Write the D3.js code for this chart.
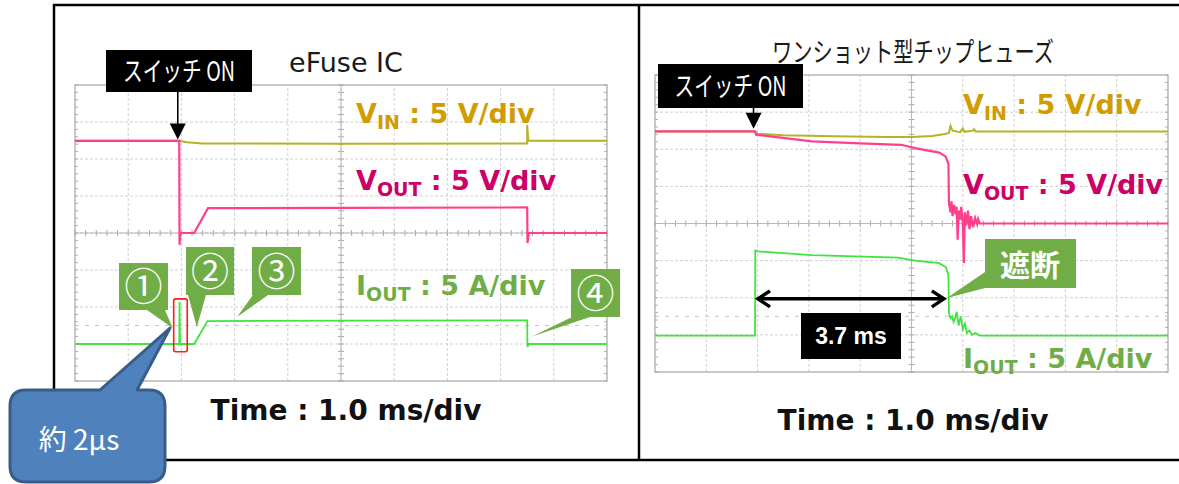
<!DOCTYPE html>
<html>
<head>
<meta charset="utf-8">
<script src="https://cdn.jsdelivr.net/npm/d3@7"></script>
<style>
  html, body { margin: 0; padding: 0; background: #fff; }
  svg { display: block; }
</style>
</head>
<body>
<svg id="chart" width="1179" height="484"></svg>
<script>
// Screen divisions of both scope captures: 10 time divisions (1 ms each), 8 vertical divisions
const timeDivs = d3.range(0, 11);
const levelDivs = d3.range(0, 9);

// Trace samples as [time in ms, level in divisions above the bottom of the screen]
// eFuse IC capture
const efuseVin = [[0, 6.49], [1.96, 6.49], [2.1, 6.45], [2.4, 6.42], [5.0, 6.41], [8.5, 6.42], [8.5, 6.92], [8.52, 6.49], [10, 6.49]];
const efuseVout = [[0, 6.49], [1.96, 6.49], [1.965, 3.68], [1.98, 4.0], [2.24, 4.0], [2.5, 4.67], [5.0, 4.68], [8.5, 4.69], [8.505, 3.73], [8.53, 4.0], [10, 4.0]];
const efuseIout = [[0, 1.0], [1.96, 1.0], [1.965, 2.14], [1.975, 1.0], [2.24, 1.0], [2.49, 1.62], [5.0, 1.63], [8.5, 1.64], [8.505, 0.92], [8.53, 1.0], [10, 1.0]];

// One-shot chip fuse capture
const fuseVin = [[0, 6.48], [1.95, 6.48], [2.0, 6.42], [2.5, 6.38], [3.5, 6.35], [4.5, 6.33], [5.0, 6.33], [5.4, 6.36], [5.65, 6.41], [5.73, 6.44], [5.76, 6.63], [5.8, 6.5], [5.95, 6.46], [6.0, 6.56], [6.03, 6.47], [6.2, 6.5], [6.22, 6.54], [6.25, 6.48], [10, 6.48]];
const fuseVout = [[0, 6.48], [1.95, 6.48], [1.97, 6.39], [3.06, 6.21], [4.0, 6.16], [4.8, 6.12], [5.07, 6.03], [5.54, 5.91], [5.67, 5.8], [5.72, 5.6], [5.73, 4.55],
  [5.76, 4.3], [5.78, 4.6], [5.8, 4.2], [5.83, 4.5], [5.86, 4.25], [5.88, 4.45], [5.9, 3.56], [5.92, 4.35], [5.95, 4.1], [5.97, 4.45], [6.0, 4.0], [6.02, 2.94],
  [6.04, 4.3], [6.07, 3.95], [6.1, 4.35], [6.13, 3.85], [6.16, 4.2], [6.2, 3.9], [6.24, 4.15], [6.28, 3.98], [6.3, 4.12], [6.33, 4.0], [10, 4.0]];
const fuseIout = [[0, 0.98], [1.95, 0.98], [1.955, 3.27], [2.0, 3.25], [3.06, 3.15], [4.74, 3.08], [5.07, 3.0], [5.54, 2.93], [5.67, 2.82], [5.72, 2.61], [5.73, 1.59],
  [5.76, 1.45], [5.79, 1.5], [5.82, 1.35], [5.85, 1.45], [5.88, 1.62], [5.92, 1.25], [5.96, 1.5], [6.0, 1.15], [6.04, 1.3], [6.08, 1.05], [6.13, 1.12],
  [6.18, 1.0], [6.25, 1.05], [6.33, 0.98], [10, 0.98]];

const switchOnMs = [1.96, 1.95];
const fuseBlowMs = 3.7;
const triggerLevel = 1.5;

// Texts
const panelTitles = ["eFuse IC", "ワンショット型チップヒューズ"];
const channelMain = ["V", "V", "I"];
const channelSub = ["IN", "OUT", "OUT"];
const channelScale = [" : 5 V/div", " : 5 V/div", " : 5 A/div"];
const timeLabel = "Time : 1.0 ms/div";
const switchLabel = "スイッチ ON";
const stepMarks = ["①", "②", "③", "④"];
const blowLabel = "遮断";
const blowTimeLabel = "3.7 ms";
const riseNote = "約 2µs";

const traceColors = { vin: "#b5b325", vout: "#ff3f8e", iout: "#3fe43f" };
const labelColors = ["#d09c00", "#cc0066", "#70ad47"];
const latin = "'DejaVu Sans', Verdana, sans-serif";
const cjk = "'Noto Sans CJK JP', 'Noto Sans', sans-serif";

const svg = d3.select("#chart");

// Outer frame and divider
svg.append("rect").attr("x", 54).attr("y", 5).attr("width", 1140).attr("height", 455)
  .attr("fill", "none").attr("stroke", "#000").attr("stroke-width", 2.5);
svg.append("line").attr("x1", 639).attr("x2", 639).attr("y1", 5).attr("y2", 460)
  .attr("stroke", "#000").attr("stroke-width", 2.5);

function drawScope(x0, x1, yTop, yBottom) {
  const x = d3.scaleLinear().domain([0, 10]).range([x0, x1]);
  const y = d3.scaleLinear().domain([0, 8]).range([yBottom, yTop]);
  const g = svg.append("g");

  // graticule
  g.selectAll(".vgrid").data(timeDivs.slice(1, -1)).join("line")
    .attr("x1", d => x(d)).attr("x2", d => x(d)).attr("y1", y(0)).attr("y2", y(8))
    .attr("stroke", "#d0d0d0").attr("stroke-dasharray", "3,2");
  g.selectAll(".hgrid").data(levelDivs.slice(1, -1)).join("line")
    .attr("x1", x(0)).attr("x2", x(10)).attr("y1", d => y(d)).attr("y2", d => y(d))
    .attr("stroke", "#d0d0d0").attr("stroke-dasharray", "3,2");

  // trigger level marker
  g.append("line").attr("x1", x(0)).attr("x2", x(10)).attr("y1", y(triggerLevel)).attr("y2", y(triggerLevel))
    .attr("stroke", "#c4c4c4").attr("stroke-dasharray", "4,6");

  // minor ticks on the centre axes
  const tMinor = d3.range(0, 10.001, 0.2);
  const vMinor = d3.range(0, 8.001, 0.2);
  g.selectAll(".tx").data(tMinor).join("line")
    .attr("x1", d => x(d)).attr("x2", d => x(d)).attr("y1", y(4) - 3).attr("y2", y(4) + 3)
    .attr("stroke", "#a8a8a8");
  g.selectAll(".ty").data(vMinor).join("line")
    .attr("x1", x(5) - 3).attr("x2", x(5) + 3).attr("y1", d => y(d)).attr("y2", d => y(d))
    .attr("stroke", "#a8a8a8");
  g.append("line").attr("x1", x(0)).attr("x2", x(10)).attr("y1", y(4)).attr("y2", y(4)).attr("stroke", "#b8b8b8");
  g.append("line").attr("x1", x(5)).attr("x2", x(5)).attr("y1", y(0)).attr("y2", y(8)).attr("stroke", "#b8b8b8");

  // border ticks
  g.selectAll(".bl").data(vMinor).join("line")
    .attr("x1", x(0)).attr("x2", x(0) + 3).attr("y1", d => y(d)).attr("y2", d => y(d)).attr("stroke", "#b0b0b0");
  g.selectAll(".br").data(vMinor).join("line")
    .attr("x1", x(10) - 3).attr("x2", x(10)).attr("y1", d => y(d)).attr("y2", d => y(d)).attr("stroke", "#b0b0b0");
  g.append("rect").attr("x", x(0)).attr("y", y(8)).attr("width", x(10) - x(0)).attr("height", y(0) - y(8))
    .attr("fill", "none").attr("stroke", "#a6a6a6").attr("stroke-width", 1.2);

  return { x, y, g };
}

function drawTraces(sc, vin, vout, iout) {
  const line = d3.line().x(d => sc.x(d[0])).y(d => sc.y(d[1]));
  sc.g.append("path").datum(vin).attr("d", line).attr("fill", "none")
    .attr("stroke", traceColors.vin).attr("stroke-width", 2);
  sc.g.append("path").datum(iout).attr("d", line).attr("fill", "none")
    .attr("stroke", traceColors.iout).attr("stroke-width", 1.8);
  sc.g.append("path").datum(vout).attr("d", line).attr("fill", "none")
    .attr("stroke", traceColors.vout).attr("stroke-width", 2.2);
}

function channelLabels(xPos, baselines) {
  baselines.forEach((b, i) => {
    const t = svg.append("text").attr("x", xPos).attr("y", b)
      .attr("font-family", latin).attr("font-weight", "bold").attr("font-size", 27)
      .attr("fill", labelColors[i]);
    t.append("tspan").text(channelMain[i]);
    t.append("tspan").attr("font-size", 19).attr("dy", 6).text(channelSub[i]);
    t.append("tspan").attr("dy", -6).text(channelScale[i]);
  });
}

function switchMarker(sc, tMs, box, tipLevel) {
  svg.append("rect").attr("x", box[0]).attr("y", box[1]).attr("width", box[2]).attr("height", box[3]).attr("fill", "#000");
  svg.append("text").attr("x", box[0] + box[2] / 2).attr("y", box[1] + box[3] / 2 + 10)
    .attr("text-anchor", "middle").attr("font-family", cjk).attr("font-size", 27)
    .attr("textLength", 112).attr("lengthAdjust", "spacingAndGlyphs")
    .attr("fill", "#fff").text(switchLabel);
  const ax = sc.x(tMs) - 1.5, tip = sc.y(tipLevel);
  svg.append("line").attr("x1", ax).attr("x2", ax).attr("y1", box[1] + box[3]).attr("y2", tip - 14)
    .attr("stroke", "#000").attr("stroke-width", 1.6);
  svg.append("path").attr("d", `M${ax - 8},${tip - 16}L${ax + 8},${tip - 16}L${ax},${tip}Z`).attr("fill", "#000");
}

function callout(box, base, tip, label, size) {
  const [bx, by, bw, bh] = box;
  svg.append("path")
    .attr("d", `M${bx},${by}H${bx + bw}V${by + bh}H${base[1]}L${tip[0]},${tip[1]}L${base[0]},${by + bh}H${bx}Z`)
    .attr("fill", "#70ad47");
  svg.append("text").attr("x", bx + bw / 2).attr("y", by + bh / 2 + size * 0.36)
    .attr("text-anchor", "middle").attr("font-family", cjk).attr("font-size", size)
    .attr("fill", "#fff").text(label);
}

// ---- eFuse IC panel ----
const left = drawScope(75, 607, 85, 381);
drawTraces(left, efuseVin, efuseVout, efuseIout);
channelLabels(356, [123, 190, 295]);

svg.append("text").attr("x", 346).attr("y", 72).attr("text-anchor", "middle")
  .attr("font-family", latin).attr("font-size", 27).attr("fill", "#1a1a1a").text(panelTitles[0]);
svg.append("text").attr("x", 346).attr("y", 420).attr("text-anchor", "middle")
  .attr("font-family", latin).attr("font-weight", "bold").attr("font-size", 28).attr("fill", "#111").text(timeLabel);

switchMarker(left, switchOnMs[0], [106, 50, 146, 42], 6.53);

// highlight round the short inrush spike
svg.append("rect").attr("x", left.x(1.855)).attr("y", left.y(2.22))
  .attr("width", left.x(2.11) - left.x(1.855)).attr("height", left.y(0.79) - left.y(2.22))
  .attr("rx", 2).attr("fill", "none").attr("stroke", "#ff1a1a").attr("stroke-width", 1.6);

// numbered steps
const lx = left.x, ly = left.y;
callout([119, 263, 49, 47], [147, 165], [lx(1.836), ly(1.43)], stepMarks[0], 38);
callout([186, 247, 48, 48], [188, 206], [lx(2.29), ly(1.46)], stepMarks[1], 38);
callout([252, 247, 49, 48], [253, 268], [lx(3.045), ly(1.73)], stepMarks[2], 38);
callout([571, 269, 49, 48], [572, 590], [lx(8.59), ly(1.2)], stepMarks[3], 38);

// ---- one-shot chip fuse panel ----
const right = drawScope(655, 1168, 75, 372);
drawTraces(right, fuseVin, fuseVout, fuseIout);
channelLabels(963, [114, 194, 368]);

svg.append("text").attr("x", 913).attr("y", 62).attr("text-anchor", "middle")
  .attr("font-family", cjk).attr("font-size", 27).attr("textLength", 282).attr("lengthAdjust", "spacingAndGlyphs")
  .attr("fill", "#1a1a1a").text(panelTitles[1]);
svg.append("text").attr("x", 913).attr("y", 430).attr("text-anchor", "middle")
  .attr("font-family", latin).attr("font-weight", "bold").attr("font-size", 28).attr("fill", "#111").text(timeLabel);

switchMarker(right, switchOnMs[1], [658, 64, 145, 44], 6.55);

// blow time span
const rx = right.x, ry = right.y;
const ax0 = rx(switchOnMs[1]) + 2, ax1 = rx(switchOnMs[1] + fuseBlowMs), ay = ry(1.97);
svg.append("line").attr("x1", ax0 + 2).attr("x2", ax1 - 2).attr("y1", ay).attr("y2", ay)
  .attr("stroke", "#000").attr("stroke-width", 3.5);
svg.append("path").attr("d", `M${ax0 + 13},${ay - 8}L${ax0 + 1},${ay}L${ax0 + 13},${ay + 8}`)
  .attr("fill", "none").attr("stroke", "#000").attr("stroke-width", 3.5).attr("stroke-linejoin", "miter");
svg.append("path").attr("d", `M${ax1 - 13},${ay - 8}L${ax1 - 1},${ay}L${ax1 - 13},${ay + 8}`)
  .attr("fill", "none").attr("stroke", "#000").attr("stroke-width", 3.5).attr("stroke-linejoin", "miter");

svg.append("rect").attr("x", 801).attr("y", 313).attr("width", 100).attr("height", 46).attr("fill", "#000");
svg.append("text").attr("x", 851).attr("y", 344).attr("text-anchor", "middle")
  .attr("font-family", "'Liberation Sans', Arial, sans-serif").attr("font-weight", "bold").attr("font-size", 23)
  .attr("fill", "#fff").text(blowTimeLabel);

// cut-off callout
svg.append("path")
  .attr("d", `M985,239H1076V288H985L${rx(5.69)},${ry(1.99)}L985,272Z`)
  .attr("fill", "#70ad47");
svg.append("text").attr("x", 1030).attr("y", 276).attr("text-anchor", "middle")
  .attr("font-family", cjk).attr("font-weight", "bold").attr("font-size", 30)
  .attr("fill", "#fff").text(blowLabel);

// rise-time note
const tipX = lx(1.786), tipY = ly(1.43);
svg.append("path")
  .attr("d", `M26,390H100L${tipX},${tipY}L137,390H149Q165,390 165,406V466Q165,482 149,482H26Q10,482 10,466V406Q10,390 26,390Z`)
  .attr("fill", "#4f81bd").attr("stroke", "#385d8a").attr("stroke-width", 3).attr("stroke-linejoin", "round");
svg.append("text").attr("x", 79).attr("y", 450).attr("text-anchor", "middle")
  .attr("font-family", cjk).attr("font-size", 28).attr("fill", "#fff").text(riseNote);
</script>
</body>
</html>
